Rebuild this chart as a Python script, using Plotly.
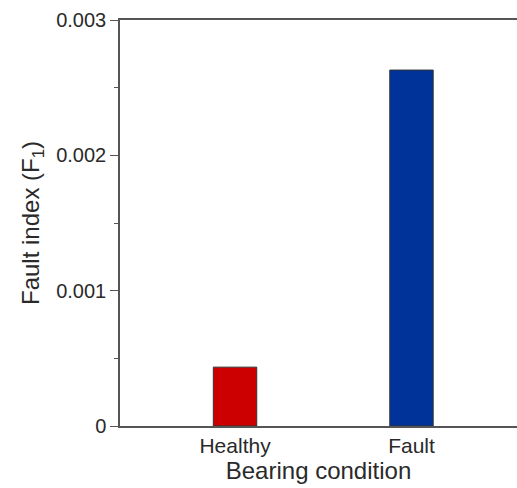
import plotly.graph_objects as go

categories = ["Healthy", "Fault"]
values = [0.000435, 0.00263]
bar_colors = ["#CC0000", "#003399"]
y_ticks = [0, 0.001, 0.002, 0.003]
y_tick_text = ["0", "0.001", "0.002", "0.003"]

fig = go.Figure()
fig.add_trace(go.Bar(
    x=[0, 1], y=values, width=0.246,
    marker=dict(color=bar_colors, line=dict(color="#333333", width=1)),
    showlegend=False,
))
# invisible trace to hold the top axis
fig.add_trace(go.Scatter(x=[0], y=[0], xaxis="x2", mode="markers",
                         marker=dict(opacity=0), showlegend=False, hoverinfo="skip"))

font = dict(family="Liberation Sans, Arial, sans-serif", color="#2a2a2a")
fig.update_layout(
    width=517, height=488,
    margin=dict(l=120, r=0, t=20, b=62),
    plot_bgcolor="white", paper_bgcolor="white",
    font=dict(size=20, **font),
    xaxis=dict(
        range=[-0.652, 1.598], tickmode="array", tickvals=[0, 1], ticktext=categories,
        showline=True, linecolor="#555555", linewidth=1.5, ticks="", showgrid=False,
        zeroline=False, tickfont=dict(size=21, **font), automargin=False,
        title=dict(text="Bearing condition", font=dict(size=24, **font), standoff=5),
    ),
    xaxis2=dict(
        overlaying="x", side="top", range=[-0.652, 1.598], showline=True,
        linecolor="#555555", linewidth=1.5, showticklabels=False, ticks="",
        showgrid=False, zeroline=False,
    ),
    yaxis=dict(
        range=[0, 0.003], tickvals=y_ticks, ticktext=y_tick_text,
        showline=True, linecolor="#555555", linewidth=1.5, ticks="outside",
        ticklen=8, tickwidth=1.2, tickcolor="#555555", showgrid=False, zeroline=False,
        minor=dict(dtick=0.0005, ticks="outside", ticklen=4, tickcolor="#555555", showgrid=False),
        tickfont=dict(size=20, **font), automargin=False,
        title=dict(text="Fault index (F<sub>1</sub>)", font=dict(size=24, **font), standoff=10),
    ),
)
fig.write_html("out.html")
